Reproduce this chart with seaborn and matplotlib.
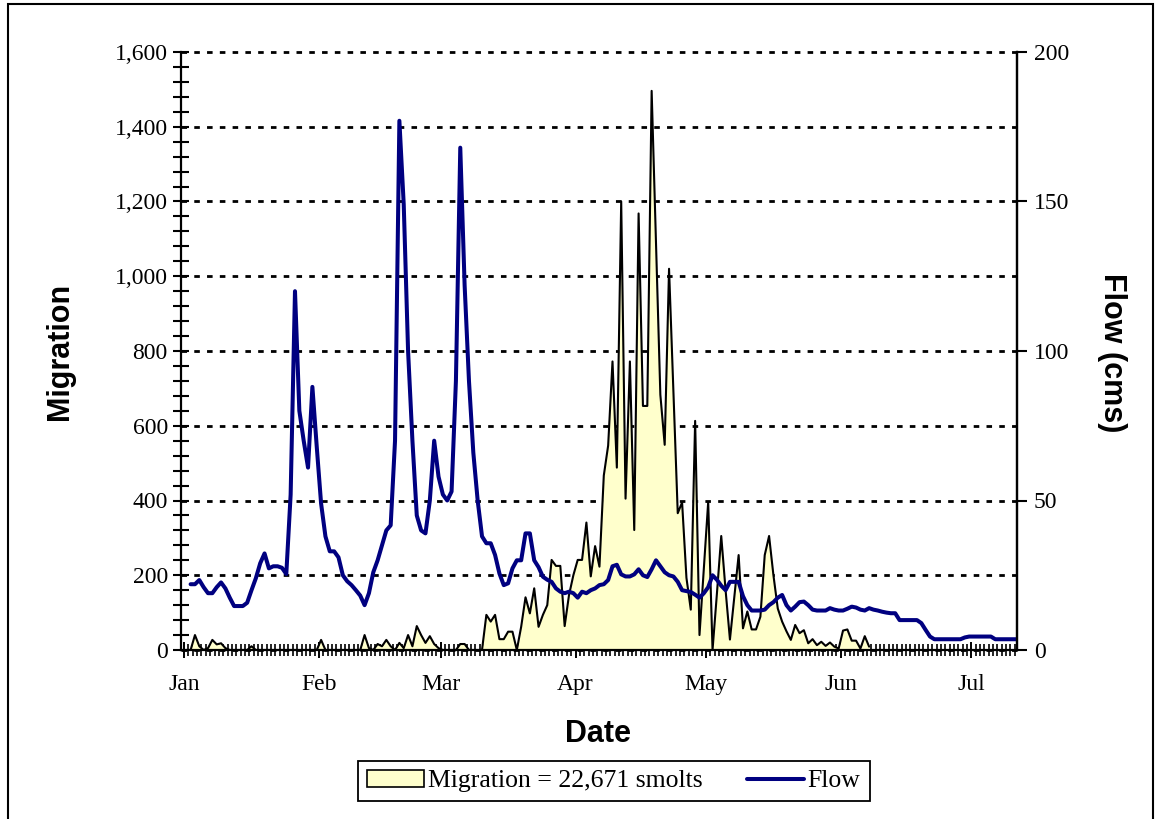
import pandas as pd
import matplotlib
matplotlib.use("Agg")
import matplotlib.pyplot as plt
import matplotlib.dates as mdates
from matplotlib.ticker import MultipleLocator
from matplotlib.patches import Patch, Rectangle
from matplotlib.lines import Line2D
import seaborn as sns

# daily smolt counts, starting Jan 1
migration = [
    0, 0, 40, 10, 0, 5, 27, 15, 18, 5,
    0, 0, 0, 0, 0, 10, 0, 0, 0, 0,
    0, 0, 0, 0, 0, 0, 0, 0, 0, 0,
    0, 27, 0, 0, 0, 0, 0, 0, 0, 0,
    0, 40, 5, 0, 16, 10, 27, 10, 0, 19,
    5, 40, 10, 64, 40, 19, 37, 16, 5, 0,
    0, 0, 0, 16, 16, 0, 0, 0, 0, 94,
    76, 94, 29, 29, 49, 49, 0, 62, 141, 98,
    165, 62, 94, 120, 241, 225, 225, 64, 147, 200,
    241, 241, 341, 197, 278, 223, 467, 547, 772, 488,
    1200, 405, 772, 321, 1168, 653, 653, 1496, 1090, 683,
    549, 1020, 690, 366, 395, 193, 108, 613, 40, 220,
    396, 0, 150, 305, 160, 28, 140, 254, 58, 103,
    55, 55, 89, 254, 305, 200, 111, 76, 50, 27,
    67, 45, 53, 18, 29, 13, 22, 11, 20, 9,
    4, 52, 55, 25, 25, 4, 37, 9,
]

# daily flow (cms), starting Jan 2
flow = [
    22, 22, 23.4, 21, 19, 19, 21, 22.6, 20.6, 17.5,
    14.7, 14.7, 14.7, 15.8, 20, 24, 29, 32.3, 27.3, 28,
    28, 27.5, 25.4, 52, 120, 80, 70, 61, 88, 68,
    49, 38, 33, 33, 31, 25, 23, 21.7, 20, 18.2,
    15, 19, 26, 30, 35, 40, 41.7, 70, 177, 149,
    100, 70, 45, 40, 39, 50, 70, 58, 52, 50,
    53, 90, 168, 122, 90, 66, 50, 38, 35.7, 35.7,
    31.8, 25.6, 21.7, 22.3, 27.3, 30, 30, 39, 39, 30,
    27.7, 24.5, 23.5, 22.8, 20.6, 19.5, 19, 19.5, 19, 17.5,
    19.5, 19, 20, 20.6, 21.7, 22, 23.4, 28, 28.5, 25.3,
    24.6, 24.6, 25.3, 27, 25, 24.4, 27, 30, 28, 26,
    25, 24.6, 22.8, 20, 19.7, 19.4, 18.5, 17.5, 19, 21,
    25, 23.5, 21.5, 20, 22.8, 22.8, 22.8, 18, 15, 13.2,
    13.2, 13.2, 13.5, 15, 16, 17.5, 18.4, 15, 13.2, 14.5,
    16, 16.2, 15, 13.5, 13.2, 13.2, 13.2, 14, 13.5, 13.2,
    13.2, 13.8, 14.5, 14.2, 13.5, 13.2, 14, 13.5, 13.2, 12.8,
    12.5, 12.3, 12.3, 10, 10, 10, 10, 10, 9, 6.7,
    4.5, 3.6, 3.6, 3.6, 3.6, 3.6, 3.6, 3.6, 4.2, 4.5,
    4.5, 4.5, 4.5, 4.5, 4.5, 3.6, 3.6, 3.6, 3.6, 3.6, 3.6,
]

month_labels = ["Jan", "Feb", "Mar", "Apr", "May", "Jun", "Jul"]
mig_ticks = [0, 200, 400, 600, 800, 1000, 1200, 1400, 1600]
mig_labels = ["0", "200", "400", "600", "800", "1,000", "1,200", "1,400", "1,600"]
flow_ticks = [0, 50, 100, 150, 200]
legend_labels = ["Migration = 22,671 smolts", "Flow"]

# points sit in the middle of each day
mig_df = pd.DataFrame({
    "Date": pd.date_range("2005-01-01 12:00", periods=len(migration), freq="D"),
    "Migration": migration,
})
flow_df = pd.DataFrame({
    "Date": pd.date_range("2005-01-02 12:00", periods=len(flow), freq="D"),
    "Flow": flow,
})

sns.set_style("white")
plt.rcParams["font.family"] = ["Liberation Serif", "DejaVu Serif"]
plt.rcParams["text.color"] = "black"
plt.rcParams["axes.labelcolor"] = "black"
plt.rcParams["xtick.color"] = "black"
plt.rcParams["ytick.color"] = "black"

fill_col = "#FFFFCC"
flow_col = "#000080"
sans = ["Liberation Sans", "DejaVu Sans"]

fig = plt.figure(figsize=(11.56, 8.19), dpi=100)
ax = fig.add_axes([181 / 1156, 1 - 650 / 819, 836 / 1156, 598 / 819])

ax.fill_between(mig_df["Date"], mig_df["Migration"], color=fill_col, lw=0, zorder=2)
sns.lineplot(data=mig_df, x="Date", y="Migration", color="black", lw=1.5, ax=ax, zorder=3)

ax2 = ax.twinx()
sns.lineplot(data=flow_df, x="Date", y="Flow", color=flow_col, lw=2.9, ax=ax2)

# axes limits
ax.set_xlim(pd.Timestamp("2005-01-01") - pd.Timedelta(hours=17),
            pd.Timestamp("2005-01-01") + pd.Timedelta(hours=24 * 191.5))
ax.set_ylim(0, 1600)
ax2.set_ylim(0, 200)

# gridlines
ax.set_axisbelow(True)
ax.grid(axis="y", which="major", color="black", linestyle=(0, (2.0, 2.6)), linewidth=2.0)
ax.grid(axis="x", visible=False)
for gl in ax.get_ygridlines():
    gl.set_clip_on(False)

# x ticks
month_starts = pd.date_range("2005-01-01", periods=len(month_labels), freq="MS")
ax.set_xticks(month_starts)
ax.set_xticklabels(month_labels)
ax.xaxis.set_minor_locator(mdates.DayLocator())
ax.tick_params(axis="x", which="major", direction="inout", length=12, width=1.4,
               labelsize=17, pad=11, bottom=True)
ax.tick_params(axis="x", which="minor", direction="inout", length=9, width=1.2, bottom=True)

# left y ticks
ax.set_yticks(mig_ticks)
ax.set_yticklabels(mig_labels)
ax.yaxis.set_minor_locator(MultipleLocator(40))
ax.tick_params(axis="y", which="major", direction="inout", length=11, width=1.5,
               labelsize=17, pad=4, left=True)
ax.tick_params(axis="y", which="minor", direction="inout", length=11, width=1.5, left=True)

# right y ticks
ax2.set_yticks(flow_ticks)
ax2.tick_params(axis="y", which="major", direction="out", length=7, width=1.5,
                labelsize=17, pad=5, right=True)

for a in (ax, ax2):
    a.spines["top"].set_visible(False)
    for s in ("left", "right", "bottom"):
        a.spines[s].set_color("black")
        a.spines[s].set_linewidth(1.6)
ax2.spines["left"].set_visible(False)
ax2.spines["bottom"].set_visible(False)

# axis titles
ax.set_ylabel("Migration", fontfamily=sans, fontweight="bold", fontsize=22,
              va="center", ha="center")
ax.yaxis.set_label_coords((60 - 181) / 836, 0.5)
ax2.set_ylabel("Flow (cms)", fontfamily=sans, fontweight="bold", fontsize=22,
               rotation=270, va="center", ha="center")
ax2.yaxis.set_label_coords((1112 - 181) / 836, 0.497)
ax.set_xlabel("Date", fontfamily=sans, fontweight="bold", fontsize=22,
              va="center", ha="center")
ax.xaxis.set_label_coords((598 - 181) / 836, (650 - 734) / 598)

# legend
handles = [Patch(facecolor=fill_col, edgecolor="black", lw=1.2),
           Line2D([], [], color=flow_col, lw=2.9)]
leg = fig.legend(handles, legend_labels, loc="center", bbox_to_anchor=(614 / 1156, 1 - 781 / 819),
                 ncol=2, frameon=True, fancybox=False, framealpha=1, edgecolor="black",
                 fontsize=18.5, handlelength=2.2, handleheight=0.65, handletextpad=0.15,
                 columnspacing=1.75, borderpad=0.35)
leg.get_frame().set_linewidth(1.3)

# outer chart border
fig.add_artist(Rectangle((8 / 1156, -0.02), (1153 - 8) / 1156, 1.02 - 4 / 819,
                         transform=fig.transFigure, fill=False, lw=1.5,
                         edgecolor="black", clip_on=False))

fig.savefig("out.png", dpi=100, facecolor="white")
